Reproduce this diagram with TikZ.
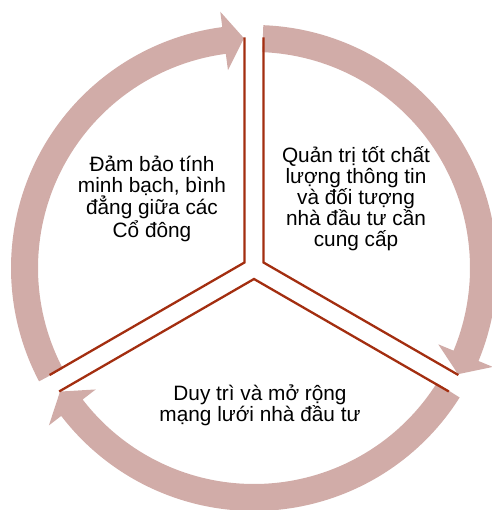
\documentclass[tikz,border=0pt]{standalone}
\usepackage{fontspec}
\setmainfont{Liberation Sans}
\usepackage{tikz}
\usepackage{xcolor}

\definecolor{ringrose}{RGB}{209,172,168}
\definecolor{dividerred}{RGB}{163,46,16}

\tikzset{
    ring arrow/.style={fill=ringrose, draw=none},
    divider/.style={draw=dividerred, line width=2.3pt},
    cycle text/.style={align=center, inner sep=0pt, font=\fontsize{20.8}{21}\selectfont}
}

\begin{document}
\begin{tikzpicture}[x=1pt, y=1pt]

    % Fix the margins of the picture
    \useasboundingbox (-254,-242) rectangle (237,268);

    % Centre of the cycle
    \coordinate (O) at (0,0);

    % Ring radii: outer, inner, arrow head outer and inner, tip
    \def\ro{243}
    \def\ri{216}
    \def\ho{258.5}
    \def\hi{199.5}
    \def\rt{230}

    % Three arrows running clockwise, each from one divider to the next
    \foreach \s/\e in {210/90, 90/-30, -30/-150} {
        \pgfmathsetmacro{\tail}{\s-2.2}
        \pgfmathsetmacro{\tip}{\e+2.5}
        \pgfmathsetmacro{\head}{\e+7.5}
        \fill[ring arrow] (\tail:\ro) arc[start angle=\tail, end angle=\head, radius=\ro pt]
            -- (\head:\ho) -- (\tip:\rt) -- (\head:\hi) -- (\head:\ri)
            arc[start angle=\head, end angle=\tail, radius=\ri pt] -- cycle;
    }

    % Double dividers: each sector bent at a corner near the centre
    \foreach \b in {150, 30, 270} {
        \coordinate (K\b) at (\b:11);
        \draw[divider] (K\b) ++(\b+60:225) -- (K\b) -- ++(\b-60:225);
    }

    % Sector texts
    \node[cycle text] (leftText) at (-102,69.5) {Đảm bảo tính\\minh bạch, bình\\đẳng giữa các\\Cổ đông};
    \node[cycle text] (rightText) at (102,69.5) {Quản trị tốt chất\\lượng thông tin\\và đối tượng\\nhà đầu tư cần\\cung cấp};
    \node[cycle text] (bottomText) at (6,-137.5) {Duy trì và mở rộng\\mạng lưới nhà đầu tư};
\end{tikzpicture}
\end{document}
